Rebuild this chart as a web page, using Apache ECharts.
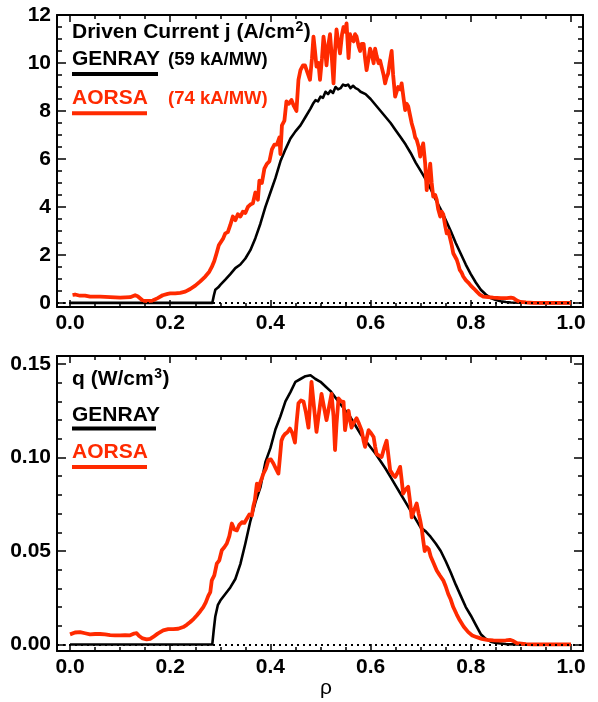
<!DOCTYPE html>
<html><head><meta charset="utf-8">
<script src="https://cdn.jsdelivr.net/npm/echarts@6/dist/echarts.min.js"></script>
<style>html,body{margin:0;padding:0;background:#fff}#c{width:598px;height:702px}</style>
</head><body><div id="c"></div>
<script>
// ---- tick labels ----
const rhoTicks = [0.0, 0.2, 0.4, 0.6, 0.8, 1.0];
const jTicks = [0, 2, 4, 6, 8, 10, 12];
const qTicks = [0.00, 0.05, 0.10, 0.15];

// ---- series values [rho, value] ----
const jGenray = [[0,0],[0.05,0],[0.1,0],[0.15,0],[0.2,0],[0.25,0],[0.284,0],[0.287,0.3],[0.29,0.55],[0.296,0.65],[0.30,0.75],[0.31,0.97],[0.32,1.2],[0.33,1.45],[0.34,1.6],[0.35,1.85],[0.36,2.2],[0.37,2.7],[0.38,3.3],[0.39,4.0],[0.40,4.6],[0.41,5.2],[0.42,5.9],[0.43,6.4],[0.44,6.85],[0.45,7.15],[0.46,7.4],[0.47,7.75],[0.48,8.1],[0.485,8.3],[0.49,8.45],[0.495,8.4],[0.50,8.6],[0.505,8.55],[0.51,8.8],[0.515,8.7],[0.52,8.85],[0.525,8.75],[0.53,9.0],[0.535,8.9],[0.54,8.95],[0.545,9.1],[0.55,9.05],[0.555,9.1],[0.56,8.95],[0.565,9.05],[0.57,8.95],[0.575,8.9],[0.58,8.8],[0.59,8.7],[0.60,8.5],[0.61,8.25],[0.62,8.0],[0.63,7.75],[0.64,7.5],[0.65,7.2],[0.66,6.9],[0.67,6.6],[0.68,6.25],[0.69,5.85],[0.70,5.5],[0.71,5.15],[0.72,4.75],[0.73,4.3],[0.74,3.9],[0.75,3.45],[0.76,3.0],[0.77,2.5],[0.78,2.05],[0.79,1.6],[0.80,1.2],[0.81,0.85],[0.82,0.55],[0.83,0.35],[0.84,0.2],[0.85,0.12],[0.86,0.07],[0.87,0.04],[0.88,0.02],[0.90,0.01],[0.95,0],[1.0,0]];

const jAorsa = [[0.005,0.33],[0.01,0.35],[0.02,0.3],[0.03,0.3],[0.04,0.26],[0.06,0.26],[0.08,0.24],[0.1,0.22],[0.12,0.24],[0.13,0.32],[0.135,0.28],[0.145,0.1],[0.155,0.08],[0.165,0.1],[0.175,0.2],[0.185,0.32],[0.195,0.38],[0.2,0.4],[0.21,0.4],[0.22,0.42],[0.23,0.47],[0.24,0.58],[0.25,0.72],[0.26,0.9],[0.27,1.1],[0.278,1.3],[0.283,1.5],[0.288,1.75],[0.293,2.1],[0.297,2.4],[0.30,2.45],[0.306,2.7],[0.31,2.9],[0.315,2.95],[0.32,3.25],[0.325,3.6],[0.33,3.45],[0.335,3.7],[0.34,3.6],[0.345,3.8],[0.35,3.75],[0.355,4.0],[0.36,4.1],[0.365,4.15],[0.37,4.6],[0.375,4.3],[0.378,5.1],[0.383,5.0],[0.388,5.6],[0.393,5.8],[0.398,5.9],[0.403,6.4],[0.408,6.6],[0.413,6.6],[0.418,6.9],[0.42,6.2],[0.423,7.4],[0.428,7.6],[0.432,8.4],[0.437,8.3],[0.442,8.46],[0.447,8.2],[0.452,8.0],[0.456,9.3],[0.46,9.7],[0.465,9.9],[0.469,9.9],[0.474,9.6],[0.479,9.3],[0.483,10.2],[0.486,11.1],[0.489,10.5],[0.492,9.85],[0.496,10.0],[0.499,9.3],[0.503,10.2],[0.506,11.1],[0.509,10.6],[0.512,9.9],[0.516,10.8],[0.519,11.2],[0.522,10.4],[0.526,9.15],[0.529,10.5],[0.532,11.4],[0.536,10.8],[0.539,10.4],[0.543,11.2],[0.546,11.5],[0.549,11.3],[0.552,11.65],[0.556,10.2],[0.559,11.2],[0.562,11.0],[0.566,10.9],[0.569,11.2],[0.572,11.1],[0.576,10.7],[0.579,10.5],[0.582,10.8],[0.586,10.8],[0.589,10.2],[0.592,9.7],[0.596,10.2],[0.599,10.6],[0.602,10.4],[0.606,9.99],[0.609,10.6],[0.612,10.3],[0.616,9.99],[0.619,10.1],[0.622,9.84],[0.626,9.5],[0.629,9.15],[0.632,9.4],[0.635,9.56],[0.638,10.0],[0.642,10.5],[0.645,9.5],[0.649,8.6],[0.652,8.8],[0.655,9.0],[0.659,8.9],[0.662,9.15],[0.666,8.5],[0.669,8.04],[0.672,8.3],[0.675,8.2],[0.679,7.8],[0.682,7.49],[0.686,7.2],[0.689,6.9],[0.692,6.8],[0.696,6.5],[0.699,6.1],[0.702,6.4],[0.705,6.65],[0.709,5.8],[0.712,4.7],[0.716,5.3],[0.719,5.8],[0.722,5.0],[0.725,4.43],[0.729,4.5],[0.732,4.3],[0.735,3.9],[0.739,3.6],[0.742,3.8],[0.745,3.7],[0.749,3.2],[0.752,2.9],[0.755,3.0],[0.758,2.76],[0.762,2.4],[0.765,2.07],[0.768,2.0],[0.772,1.8],[0.775,1.6],[0.778,1.375],[0.782,1.25],[0.785,1.1],[0.79,0.95],[0.795,0.85],[0.8,0.72],[0.806,0.6],[0.812,0.47],[0.818,0.35],[0.825,0.26],[0.835,0.24],[0.845,0.22],[0.86,0.2],[0.872,0.2],[0.88,0.22],[0.885,0.2],[0.892,0.1],[0.899,0.04],[0.91,0.02],[0.925,0.0],[0.95,0.0],[0.97,0.0],[1.0,0.0]];

const qGenray = [[0,0],[0.1,0],[0.2,0],[0.284,0],[0.287,0.008],[0.29,0.015],[0.295,0.021],[0.30,0.0235],[0.31,0.027],[0.32,0.0305],[0.33,0.035],[0.34,0.043],[0.35,0.054],[0.36,0.066],[0.37,0.076],[0.38,0.084],[0.39,0.0975],[0.40,0.105],[0.41,0.115],[0.42,0.122],[0.43,0.13],[0.44,0.135],[0.45,0.1405],[0.46,0.142],[0.47,0.1435],[0.48,0.144],[0.49,0.142],[0.50,0.1405],[0.51,0.138],[0.52,0.1355],[0.53,0.132],[0.54,0.1285],[0.55,0.125],[0.56,0.1215],[0.57,0.117],[0.58,0.1125],[0.59,0.109],[0.60,0.1055],[0.61,0.102],[0.62,0.098],[0.63,0.094],[0.64,0.0895],[0.65,0.085],[0.66,0.0805],[0.67,0.076],[0.68,0.0715],[0.69,0.067],[0.70,0.0625],[0.71,0.0605],[0.72,0.0575],[0.73,0.054],[0.74,0.05],[0.75,0.0445],[0.76,0.0385],[0.77,0.032],[0.78,0.026],[0.79,0.02],[0.80,0.0155],[0.81,0.0105],[0.82,0.0055],[0.83,0.003],[0.84,0.0015],[0.85,0.0008],[0.87,0.0002],[0.9,0],[1.0,0]];

const qAorsa = [[0.0,0.0054],[0.01,0.0064],[0.02,0.0066],[0.03,0.006],[0.04,0.0054],[0.05,0.0056],[0.06,0.0056],[0.07,0.0054],[0.08,0.005],[0.09,0.0049],[0.1,0.0049],[0.11,0.005],[0.12,0.0049],[0.128,0.0058],[0.133,0.006],[0.138,0.0045],[0.145,0.0032],[0.153,0.0027],[0.16,0.003],[0.166,0.004],[0.175,0.0058],[0.186,0.0075],[0.196,0.0082],[0.206,0.0082],[0.216,0.0084],[0.226,0.0093],[0.233,0.0105],[0.24,0.012],[0.247,0.0137],[0.253,0.0155],[0.26,0.0178],[0.266,0.02],[0.271,0.0225],[0.276,0.026],[0.28,0.028],[0.283,0.0343],[0.288,0.037],[0.293,0.0432],[0.298,0.045],[0.303,0.0504],[0.308,0.052],[0.313,0.054],[0.318,0.058],[0.323,0.0647],[0.328,0.0615],[0.333,0.061],[0.338,0.064],[0.343,0.0654],[0.348,0.065],[0.353,0.0673],[0.358,0.0695],[0.363,0.069],[0.366,0.074],[0.369,0.0771],[0.373,0.086],[0.376,0.0825],[0.379,0.086],[0.383,0.089],[0.386,0.0914],[0.391,0.094],[0.396,0.0986],[0.401,0.099],[0.406,0.0968],[0.411,0.094],[0.416,0.0914],[0.419,0.1],[0.422,0.109],[0.425,0.111],[0.429,0.1125],[0.434,0.1135],[0.439,0.1155],[0.444,0.113],[0.449,0.108],[0.452,0.118],[0.456,0.129],[0.461,0.1305],[0.466,0.13],[0.471,0.124],[0.476,0.116],[0.479,0.128],[0.482,0.1405],[0.487,0.127],[0.492,0.1137],[0.497,0.124],[0.502,0.134],[0.507,0.127],[0.512,0.12],[0.517,0.127],[0.522,0.134],[0.526,0.122],[0.529,0.104],[0.532,0.118],[0.536,0.1316],[0.541,0.13],[0.546,0.1298],[0.549,0.1146],[0.552,0.12],[0.556,0.125],[0.559,0.12],[0.562,0.116],[0.567,0.119],[0.572,0.121],[0.577,0.118],[0.582,0.1146],[0.586,0.109],[0.589,0.1057],[0.592,0.11],[0.596,0.1146],[0.601,0.113],[0.606,0.111],[0.609,0.106],[0.612,0.1018],[0.617,0.101],[0.622,0.1003],[0.627,0.105],[0.632,0.109],[0.636,0.1],[0.639,0.0932],[0.644,0.091],[0.649,0.0896],[0.654,0.092],[0.659,0.095],[0.662,0.088],[0.665,0.0807],[0.67,0.083],[0.675,0.0843],[0.679,0.076],[0.682,0.068],[0.687,0.072],[0.692,0.0754],[0.696,0.07],[0.699,0.0664],[0.702,0.062],[0.705,0.0557],[0.708,0.05],[0.712,0.052],[0.716,0.051],[0.72,0.047],[0.725,0.044],[0.732,0.0396],[0.738,0.037],[0.745,0.0343],[0.75,0.031],[0.755,0.027],[0.76,0.024],[0.765,0.02],[0.772,0.016],[0.778,0.0129],[0.786,0.0095],[0.795,0.0066],[0.803,0.0048],[0.812,0.0039],[0.822,0.003],[0.832,0.0025],[0.845,0.0022],[0.858,0.002],[0.87,0.0022],[0.878,0.0025],[0.885,0.0018],[0.892,0.0007],[0.91,0.0002],[0.925,0],[0.95,0],[1.0,0]];

// ---- texts ----
const jTitle = 'Driven Current j (A/cm';
const qTitle = 'q (W/cm';
const genrayJ = '(59 kA/MW)';
const aorsaJ = '(74 kA/MW)';

// ---- styling / layout ----
const FONT = '"Liberation Sans", Arial, Helvetica, sans-serif';
const RED = '#ff2a00';
const X_MIN = -0.026, X_MAX = 1.024;

function minorList(lo, hi, step, majors) {
  const out = [];
  const n = Math.round((hi - lo) / step);
  for (let i = 0; i <= n; i++) {
    const v = +(lo + i * step).toFixed(6);
    if (!majors.some(m => Math.abs(m - v) < 1e-9)) out.push(v);
  }
  return out;
}
const rhoMinor = minorList(0, 1, 0.05, rhoTicks);
const jMinor = minorList(0, 12, 0.5, jTicks);
const qMinor = minorList(0, 0.15, 0.01, qTicks);

function mkAxis(g, pos, min, max, ticks, len, labels, fmt, showLine) {
  return {
    gridIndex: g, type: 'value', position: pos, min: min, max: max,
    splitLine: { show: false },
    axisLine: { show: showLine, onZero: false, lineStyle: { color: '#000', width: 2 } },
    axisTick: { show: true, inside: true, length: len, customValues: ticks, lineStyle: { color: '#000', width: 1.5 } },
    axisLabel: labels ? { show: true, customValues: ticks, formatter: fmt, margin: 6, color: '#000',
      fontFamily: FONT, fontWeight: 'bold', fontSize: 21 } : { show: false }
  };
}
const fx = v => v.toFixed(1);
const xAxes = [];
const yAxes = [];
const yCfg = [
  { min: -0.17, max: 12, maj: jTicks, min2: jMinor, fmt: v => String(Math.round(v)) },
  { min: -0.0035, max: 0.1543, maj: qTicks, min2: qMinor, fmt: v => v.toFixed(2) }
];
for (let g = 0; g < 2; g++) {
  xAxes.push(mkAxis(g, 'bottom', X_MIN, X_MAX, rhoTicks, 7, true, fx, true));
  xAxes.push(mkAxis(g, 'bottom', X_MIN, X_MAX, rhoMinor, 4, false, null, false));
  xAxes.push(mkAxis(g, 'top', X_MIN, X_MAX, rhoTicks, 7, false, null, true));
  xAxes.push(mkAxis(g, 'top', X_MIN, X_MAX, rhoMinor, 4, false, null, false));
  const c = yCfg[g];
  yAxes.push(mkAxis(g, 'left', c.min, c.max, c.maj, 9, true, c.fmt, true));
  yAxes.push(mkAxis(g, 'left', c.min, c.max, c.min2, 5, false, null, false));
  yAxes.push(mkAxis(g, 'right', c.min, c.max, c.maj, 9, false, null, true));
  yAxes.push(mkAxis(g, 'right', c.min, c.max, c.min2, 5, false, null, false));
}

const zeroLine = {
  silent: true, symbol: 'none', label: { show: false },
  lineStyle: { color: '#000', type: [2, 4], width: 2 },
  data: [{ yAxis: 0 }]
};
function line(data, g, color, width, mark) {
  const s = {
    type: 'line', data: data, xAxisIndex: g * 4, yAxisIndex: g * 4,
    showSymbol: false, symbol: 'none', animation: false,
    lineStyle: { color: color, width: width, join: 'round' }
  };
  if (mark) s.markLine = zeroLine;
  return s;
}

// measure for superscripts
const ctx = document.createElement('canvas').getContext('2d');
function tw(t, size) { ctx.font = 'bold ' + size + 'px ' + FONT; return ctx.measureText(t).width; }
function txt(t, x, y, size, color, weight) {
  return { type: 'text', x: x, y: y, silent: true,
    style: { text: t, fill: color, fontFamily: FONT, fontWeight: weight || 'bold', fontSize: size,
      align: 'left', verticalAlign: 'middle' } };
}
function uline(x1, x2, y, color) {
  return { type: 'line', silent: true, shape: { x1: x1, y1: y, x2: x2, y2: y }, style: { stroke: color, lineWidth: 4 } };
}
const g = [];
let w1 = tw(jTitle, 21);
g.push(txt(jTitle, 72, 32, 21, '#000'));
g.push(txt('2', 72 + w1 + 0.5, 27, 14, '#000'));
g.push(txt(')', 72 + w1 + tw('2', 14) + 1, 32, 21, '#000'));
g.push(txt('GENRAY', 72, 59.5, 21, '#000'));
g.push(uline(72, 158, 74, '#000'));
g.push(txt(genrayJ, 168, 59.5, 18.5, '#000'));
g.push(txt('AORSA', 72, 98.5, 21, RED));
g.push(uline(72, 147, 113.3, RED));
g.push(txt(aorsaJ, 168, 98.5, 18.5, RED));
let w2 = tw(qTitle, 21);
g.push(txt(qTitle, 72, 379, 21, '#000'));
g.push(txt('3', 72 + w2 + 0.5, 374, 14, '#000'));
g.push(txt(')', 72 + w2 + tw('3', 14) + 1, 379, 21, '#000'));
g.push(txt('GENRAY', 72, 415.5, 21, '#000'));
g.push(uline(72, 156, 428.5, '#000'));
g.push(txt('AORSA', 72, 452.5, 21, RED));
g.push(uline(72, 147, 467, RED));
g.push({ type: 'text', x: 326, y: 688, silent: true,
  style: { text: 'ρ', fill: '#000', fontFamily: FONT, fontSize: 21, align: 'center', verticalAlign: 'middle' } });

const chart = echarts.init(document.getElementById('c'), null, { renderer: 'canvas' });
chart.setOption({
  animation: false,
  backgroundColor: '#fff',
  grid: [
    { left: 57, top: 15, width: 526, height: 292, outerBoundsMode: 'none', containLabel: false },
    { left: 57, top: 356, width: 526, height: 295, outerBoundsMode: 'none', containLabel: false }
  ],
  xAxis: xAxes,
  yAxis: yAxes,
  series: [
    line(jGenray, 0, '#000', 2.6, true),
    line(jAorsa, 0, RED, 3.8, false),
    line(qGenray, 1, '#000', 2.6, true),
    line(qAorsa, 1, RED, 3.8, false)
  ],
  graphic: g
});
</script>
</body></html>
